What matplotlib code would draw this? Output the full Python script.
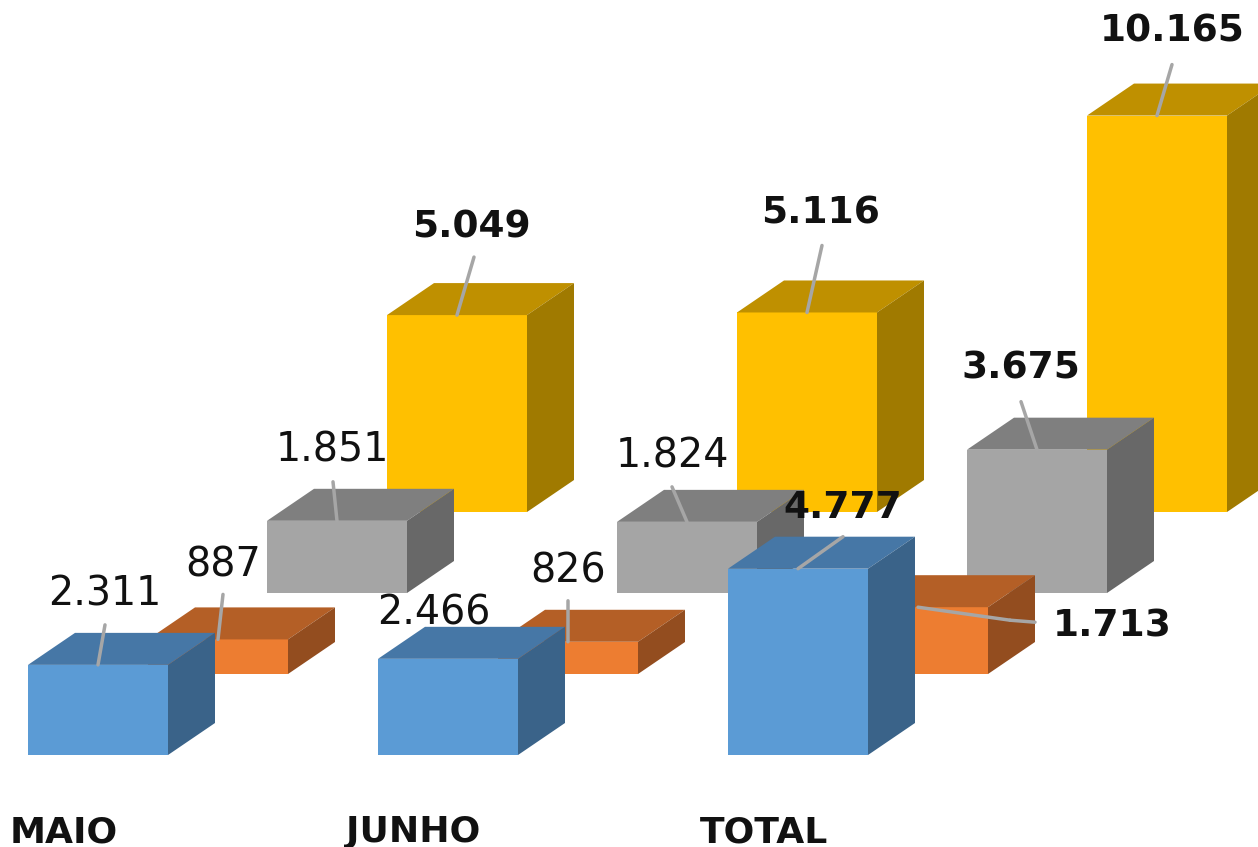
import matplotlib
matplotlib.use("Agg")
import matplotlib.pyplot as plt
from matplotlib.patches import Polygon

categories = ["MAIO", "JUNHO", "TOTAL"]
blue = [2311, 2466, 4777]
orange = [887, 826, 1713]
gray = [1851, 1824, 3675]
yellow = [5049, 5116, 10165]

blue_txt = ["2.311", "2.466", "4.777"]
orange_txt = ["887", "826", "1.713"]
gray_txt = ["1.851", "1.824", "3.675"]
yellow_txt = ["5.049", "5.116", "10.165"]

W, H = 1258, 847
PX_PER_UNIT = 0.039   # pixels for one unit of value
BASE_Y = 755          # pixel row of value 0 on the front series
GROUP_STEP = 350
BAR_W = 140
DEPTH_X = 47
DEPTH_Y = 32 / PX_PER_UNIT
LINE = dict(arrowstyle="-", color="#A6A6A6", lw=2.5, shrinkA=0, shrinkB=0)

fig = plt.figure(figsize=(W / 100, H / 100), dpi=100)
ax = fig.add_axes([0, 0, 1, 1])
ax.set_xlim(0, W)
ax.set_ylim(-(H - BASE_Y) / PX_PER_UNIT, BASE_Y / PX_PER_UNIT)
ax.axis("off")


def draw_bars(values, x0, base, front, top, side):
    for i, v in enumerate(values):
        x = x0 + i * GROUP_STEP
        ax.bar(x, v, BAR_W, bottom=base, align="edge", color=front, linewidth=0)
        y = base + v
        ax.add_patch(Polygon([(x, y), (x + BAR_W, y), (x + BAR_W + DEPTH_X, y + DEPTH_Y),
                              (x + DEPTH_X, y + DEPTH_Y)], color=top, lw=0))
        ax.add_patch(Polygon([(x + BAR_W, base), (x + BAR_W, y), (x + BAR_W + DEPTH_X, y + DEPTH_Y),
                              (x + BAR_W + DEPTH_X, base + DEPTH_Y)], color=side, lw=0))


# back to front
draw_bars(yellow, 387, 243 / PX_PER_UNIT, "#FFC000", "#BF9000", "#A07A00")
draw_bars(gray, 267, 162 / PX_PER_UNIT, "#A5A5A5", "#7F7F7F", "#686868")
draw_bars(orange, 148, 81 / PX_PER_UNIT, "#ED7D31", "#B45F26", "#934D1F")
draw_bars(blue, 28, 0, "#5B9BD5", "#4677A6", "#3A6389")


def label(txt, x0, base, values, i, text_off, line_off, bold):
    x = x0 + i * GROUP_STEP + BAR_W / 2
    y = base + values[i]
    if line_off is not None:
        ax.annotate("", xy=(x, y), xytext=line_off, textcoords="offset pixels", arrowprops=LINE)
    ax.annotate(txt[i], xy=(x, y), xytext=text_off, textcoords="offset pixels",
                ha="center", va="center", fontsize=27 if bold else 28.5,
                fontweight="bold" if bold else "normal", color="#111111")


label(yellow_txt, 387, 243 / PX_PER_UNIT, yellow, 0, (14, 88), (17, 58), True)
label(yellow_txt, 387, 243 / PX_PER_UNIT, yellow, 1, (14, 99), (15, 67), True)
label(yellow_txt, 387, 243 / PX_PER_UNIT, yellow, 2, (15, 84), (15, 51), True)
label(gray_txt, 267, 162 / PX_PER_UNIT, gray, 0, (-5, 70), (-4, 39), False)
label(gray_txt, 267, 162 / PX_PER_UNIT, gray, 1, (-15, 65), (-15, 35), False)
label(gray_txt, 267, 162 / PX_PER_UNIT, gray, 2, (-16, 81), (-16, 48), True)
label(orange_txt, 148, 81 / PX_PER_UNIT, orange, 0, (5, 74), (5, 45), False)
label(orange_txt, 148, 81 / PX_PER_UNIT, orange, 1, (0, 70), (0, 41), False)
label(blue_txt, 28, 0, blue, 0, (7, 70), (7, 40), False)
label(blue_txt, 28, 0, blue, 1, (-14, 45), None, False)
label(blue_txt, 28, 0, blue, 2, (45, 61), (45, 32), True)

# the 1.713 label sits to the right with an elbow in its leader
tx = 148 + 2 * GROUP_STEP + BAR_W / 2
ty = 81 / PX_PER_UNIT + orange[2]
ax.annotate("", xy=(tx, ty), xytext=(92, -13), textcoords="offset pixels", arrowprops=LINE)
ax.annotate("", xy=(tx + 92, ty - 13 / PX_PER_UNIT), xytext=(25, -2), textcoords="offset pixels", arrowprops=LINE)
ax.annotate(orange_txt[2], xy=(tx, ty), xytext=(194, -19), textcoords="offset pixels",
            ha="center", va="center", fontsize=27, fontweight="bold", color="#111111")

for name, x in zip(categories, [10, 346, 700]):
    ax.text(x, -(832 - BASE_Y) / PX_PER_UNIT, name, ha="left", va="center",
            fontsize=26, fontweight="bold", color="#111111")

fig.savefig("out.png", dpi=100)
